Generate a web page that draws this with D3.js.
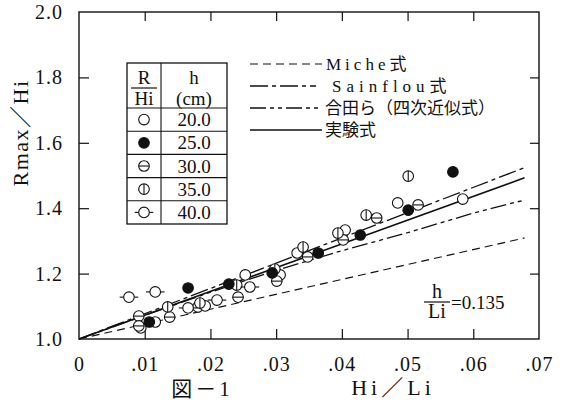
<!DOCTYPE html>
<html><head><meta charset="utf-8">
<script src="https://cdn.jsdelivr.net/npm/d3@7"></script>
<style>
body{margin:0;background:#fff}
svg{display:block}
text{font-family:"Liberation Serif","Times New Roman",Times,"DejaVu Serif","Noto Sans CJK JP",serif;fill:#111}
</style></head><body>
<svg id="c" width="564" height="404"></svg>
<script>
// ---- data ----
const xTicks=[0,0.01,0.02,0.03,0.04,0.05,0.06,0.07];
const xTickLabels=["0",".01",".02",".03",".04",".05",".06",".07"];
const yTicks=[1.0,1.2,1.4,1.6,1.8,2.0];
const yTickLabels=["1.0","1.2","1.4","1.6","1.8","2.0"];
const depthLabels=["20.0","25.0","30.0","35.0","40.0"];
const markerTypes=["open","filled","theta","phi","tick"];
const lineLabels=["Miche","Sainflou","合田ら（四次近似式）","実験式"];

// theory / fit lines
const micheX=[0,0.0678], micheY=[1.0,1.309];
const sainflouX=[0,0.0678], sainflouY=[1.0,1.524];
const godaX=[0,0.01,0.02,0.03,0.04,0.05,0.06,0.0678];
const godaY=[1.0,1.072,1.143,1.21,1.27,1.325,1.385,1.425];
const expX=[0,0.0678], expY=[1.0,1.493];

// measured points, by water depth h (cm)
const h20X=[0.0094,0.0116,0.0181,0.0192,0.0253,0.0306,0.0332,0.0405,0.0485,0.0584];
const h20Y=[1.034,1.052,1.098,1.101,1.196,1.196,1.263,1.333,1.416,1.428];
const h25X=[0.0107,0.0166,0.0228,0.0294,0.0364,0.0428,0.0501,0.0569];
const h25Y=[1.052,1.156,1.168,1.202,1.263,1.318,1.394,1.511];
const h30X=[0.0091,0.0091,0.0138,0.0242,0.0301,0.0348,0.0402,0.0453,0.0516];
const h30Y=[1.070,1.040,1.067,1.128,1.177,1.251,1.303,1.370,1.410];
const h35X=[0.0135,0.0184,0.0240,0.0298,0.0341,0.0394,0.0437,0.0501];
const h35Y=[1.098,1.110,1.165,1.214,1.281,1.324,1.379,1.498];
const h40X=[0.0076,0.0116,0.0166,0.0210,0.0260];
const h40Y=[1.128,1.144,1.095,1.119,1.159];

// ---- chart ----
const svg=d3.select("#c");
const x=d3.scaleLinear().domain([0,0.07]).range([79,539]);
const y=d3.scaleLinear().domain([1,2]).range([339,12]);
const ink="#111";
const SERIF='"Liberation Serif","Times New Roman",Times,"DejaVu Serif",serif';

// frame
svg.append("rect").attr("x",x(0)).attr("y",y(2)).attr("width",x(0.07)-x(0)).attr("height",y(1)-y(2))
  .attr("fill","none").attr("stroke",ink).attr("stroke-width",1.4);

// axes (inward ticks)
const fx=d=>xTickLabels[xTicks.indexOf(d)];
const fy=d=>yTickLabels[yTicks.findIndex(v=>Math.abs(v-d)<1e-9)];
const gb=svg.append("g").attr("transform",`translate(0,${y(1)})`)
  .call(d3.axisBottom(x).tickValues(xTicks).tickFormat(fx).tickSize(-10).tickPadding(18));
const gl=svg.append("g").attr("transform",`translate(${x(0)},0)`)
  .call(d3.axisLeft(y).tickValues(yTicks).tickFormat(fy).tickSize(-10).tickPadding(16));
const gt=svg.append("g").attr("transform",`translate(0,${y(2)})`)
  .call(d3.axisTop(x).tickValues(xTicks.slice(1,-1)).tickFormat("").tickSize(-9));
const gr=svg.append("g").attr("transform",`translate(${x(0.07)},0)`)
  .call(d3.axisRight(y).tickValues(yTicks.slice(1,-1)).tickFormat("").tickSize(-9));
[gb,gl,gt,gr].forEach(g=>{
  g.attr("font-family",null);
  g.select(".domain").remove();
  g.selectAll("line").attr("stroke",ink).attr("stroke-width",1.2);
  g.selectAll("text").attr("font-size",20).attr("fill",ink).style("letter-spacing","1px")
   .style("font-family",SERIF);
});
gb.selectAll(".tick").filter(d=>d===0||d===0.07).select("line").remove();
gl.selectAll(".tick").filter(d=>d===1||d===2).select("line").remove();

// lines
const styles={
  miche:{dash:"8,5",w:1.2},
  sainflou:{dash:"18,4,4,4",w:1.3},
  goda:{dash:"16,4,4,4,4,4",w:1.3},
  exp:{dash:null,w:1.6}
};
const lg=d3.line().x(d=>x(d[0])).y(d=>y(d[1]));
function drawLine(xs,ys,st){
  svg.append("path").datum(d3.zip(xs,ys)).attr("d",lg).attr("fill","none")
    .attr("stroke",ink).attr("stroke-width",st.w).attr("stroke-dasharray",st.dash);
}
drawLine(micheX,micheY,styles.miche);
drawLine(sainflouX,sainflouY,styles.sainflou);
drawLine(godaX,godaY,styles.goda);
drawLine(expX,expY,styles.exp);

// markers
const R=5.3;
function marker(g,type,cx,cy){
  if(type==="tick"){
    g.append("line").attr("x1",cx-R-4).attr("x2",cx+R+4).attr("y1",cy).attr("y2",cy)
     .attr("stroke",ink).attr("stroke-width",1.1);
  }
  g.append("circle").attr("cx",cx).attr("cy",cy).attr("r",R)
   .attr("fill",type==="filled"?ink:"#fff").attr("stroke",ink).attr("stroke-width",1.1);
  if(type==="theta"){
    g.append("line").attr("x1",cx-R).attr("x2",cx+R).attr("y1",cy).attr("y2",cy)
     .attr("stroke",ink).attr("stroke-width",1.1);
  }
  if(type==="phi"){
    g.append("line").attr("x1",cx).attr("x2",cx).attr("y1",cy-R).attr("y2",cy+R)
     .attr("stroke",ink).attr("stroke-width",1.1);
  }
}
const pg=svg.append("g");
const sets=[[h20X,h20Y,"open"],[h30X,h30Y,"theta"],[h35X,h35Y,"phi"],[h40X,h40Y,"tick"],[h25X,h25Y,"filled"]];
sets.forEach(([xs,ys,t])=>xs.forEach((v,i)=>marker(pg,t,x(v),y(ys[i]))));

// marker table
const tb={x0:127,x1:161,x2:227,y0:63,yh:108,rh:23.2};
const tg=svg.append("g");
const yEnd=tb.yh+tb.rh*depthLabels.length;
tg.append("rect").attr("x",tb.x0).attr("y",tb.y0).attr("width",tb.x2-tb.x0).attr("height",yEnd-tb.y0)
  .attr("fill","#fff").attr("stroke",ink).attr("stroke-width",1.3);
tg.append("line").attr("x1",tb.x1).attr("x2",tb.x1).attr("y1",tb.y0).attr("y2",yEnd).attr("stroke",ink).attr("stroke-width",1.1);
depthLabels.forEach((lab,i)=>{
  const yt=tb.yh+tb.rh*i;
  tg.append("line").attr("x1",tb.x0).attr("x2",tb.x2).attr("y1",yt).attr("y2",yt).attr("stroke",ink).attr("stroke-width",1.1);
  const cy=yt+tb.rh/2;
  marker(tg,markerTypes[i],(tb.x0+tb.x1)/2,cy);
  tg.append("text").attr("x",(tb.x1+tb.x2)/2).attr("y",cy+6.5).attr("text-anchor","middle")
    .attr("font-size",19).text(lab);
});
const cL=(tb.x0+tb.x1)/2, cR=(tb.x1+tb.x2)/2;
tg.append("text").attr("x",cL).attr("y",84).attr("text-anchor","middle").attr("font-size",19).text("R");
tg.append("line").attr("x1",cL-13).attr("x2",cL+13).attr("y1",88).attr("y2",88).attr("stroke",ink).attr("stroke-width",1.2);
tg.append("text").attr("x",cL).attr("y",105).attr("text-anchor","middle").attr("font-size",19).text("Hi");
tg.append("text").attr("x",cR).attr("y",84).attr("text-anchor","middle").attr("font-size",19).text("h");
tg.append("text").attr("x",cR).attr("y",105).attr("text-anchor","middle").attr("font-size",19).text("(cm)");

// line legend
const legY=[64,86,108,130];
const legSt=[styles.miche,styles.sainflou,styles.goda,styles.exp];
legY.forEach((ly,i)=>{
  svg.append("line").attr("x1",250).attr("x2",i===1?316:322).attr("y1",ly).attr("y2",ly)
    .attr("stroke",ink).attr("stroke-width",legSt[i].w).attr("stroke-dasharray",legSt[i].dash);
});
function latinCjk(xp,yp,latin,cjk,ls){
  const t=svg.append("text").attr("x",xp).attr("y",yp).attr("font-size",17);
  t.append("tspan").style("letter-spacing",ls+"px").text(latin);
  t.append("tspan").text(cjk);
}
latinCjk(326,legY[0]+6,lineLabels[0],"式",4);
latinCjk(332,legY[1]+6,lineLabels[1],"式",5);
svg.append("text").attr("x",325).attr("y",legY[2]+6).attr("font-size",17).text(lineLabels[2]);
svg.append("text").attr("x",325).attr("y",legY[3]+6).attr("font-size",17).text(lineLabels[3]);

// h/Li annotation
svg.append("text").attr("x",437).attr("y",298).attr("text-anchor","middle").attr("font-size",20).text("h");
svg.append("line").attr("x1",424).attr("x2",450).attr("y1",302).attr("y2",302).attr("stroke",ink).attr("stroke-width",1.2);
svg.append("text").attr("x",437).attr("y",318).attr("text-anchor","middle").attr("font-size",20).text("Li");
svg.append("text").attr("x",451).attr("y",309).attr("font-size",19).text("=0.135");

// axis titles
svg.append("text").attr("transform","translate(28,133) rotate(-90)").attr("text-anchor","middle")
  .attr("font-size",22).style("letter-spacing","1.5px").text("Rmax／Hi");
svg.append("text").attr("x",393).attr("y",395).attr("text-anchor","middle")
  .attr("font-size",22).style("letter-spacing","4px").text("Hi／Li");
svg.append("text").attr("x",202).attr("y",396).attr("text-anchor","middle")
  .attr("font-size",21).style("letter-spacing","3px").text("図－1");
</script>
</body></html>
